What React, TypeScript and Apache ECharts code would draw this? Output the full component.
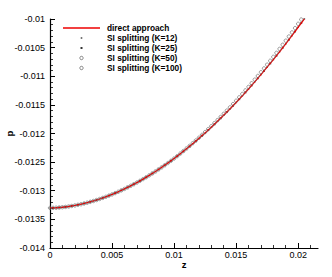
import React, { useEffect, useRef } from "react";
import * as echarts from "echarts";

// z grid A (0 .. 0.0205, step 0.0005)
const zA = [
  0, 0.0005, 0.001, 0.0015, 0.002, 0.0025, 0.003, 0.0035, 0.004, 0.0045,
  0.005, 0.0055, 0.006, 0.0065, 0.007, 0.0075, 0.008, 0.0085, 0.009, 0.0095,
  0.01, 0.0105, 0.011, 0.0115, 0.012, 0.0125, 0.013, 0.0135, 0.014, 0.0145,
  0.015, 0.0155, 0.016, 0.0165, 0.017, 0.0175, 0.018, 0.0185, 0.019, 0.0195,
  0.02, 0.0205,
];
// z grid B (0.00025 .. 0.02025)
const zB = [
  0.00025, 0.00075, 0.00125, 0.00175, 0.00225, 0.00275, 0.00325, 0.00375, 0.00425, 0.00475,
  0.00525, 0.00575, 0.00625, 0.00675, 0.00725, 0.00775, 0.00825, 0.00875, 0.00925, 0.00975,
  0.01025, 0.01075, 0.01125, 0.01175, 0.01225, 0.01275, 0.01325, 0.01375, 0.01425, 0.01475,
  0.01525, 0.01575, 0.01625, 0.01675, 0.01725, 0.01775, 0.01825, 0.01875, 0.01925, 0.01975,
  0.02025,
];

const directP = [
  -0.0133, -0.013297, -0.013288, -0.013275, -0.013257, -0.013235, -0.013209, -0.013179, -0.013144, -0.013106,
  -0.013064, -0.013018, -0.012968, -0.012914, -0.012857, -0.012796, -0.012731, -0.012663, -0.012591, -0.012516,
  -0.012437, -0.012354, -0.012268, -0.012179, -0.012086, -0.01199, -0.01189, -0.011787, -0.01168, -0.011571,
  -0.011458, -0.011342, -0.011222, -0.011098, -0.010971, -0.010842, -0.010709, -0.010573, -0.010433, -0.010291,
  -0.010144, -0.009997,
];

const si12P = [
  -0.0133, -0.013297, -0.013288, -0.013275, -0.013257, -0.013235, -0.013209, -0.013179, -0.013144, -0.013106,
  -0.013064, -0.013018, -0.012968, -0.012914, -0.012857, -0.012796, -0.012731, -0.012663, -0.012591, -0.012516,
  -0.012437, -0.012354, -0.012268, -0.012179, -0.012086, -0.01199, -0.01189, -0.011787, -0.01168, -0.011571,
  -0.011458, -0.011342, -0.011222, -0.011098, -0.010971, -0.010842, -0.010709, -0.010573, -0.010433, -0.010291,
  -0.010144, -0.009997,
];

const si25P = [
  -0.013299, -0.013293, -0.013282, -0.013266, -0.013246, -0.013222, -0.013194, -0.013162, -0.013125, -0.013085,
  -0.013041, -0.012993, -0.012941, -0.012886, -0.012827, -0.012764, -0.012697, -0.012627, -0.012554, -0.012477,
  -0.012396, -0.012311, -0.012224, -0.012133, -0.012038, -0.01194, -0.011839, -0.011734, -0.011626, -0.011515,
  -0.0114, -0.011282, -0.01116, -0.011035, -0.010907, -0.010776, -0.010641, -0.010503, -0.010362, -0.010218,
  -0.010071,
];

const si50P = [
  -0.0133, -0.013297, -0.013288, -0.013275, -0.013257, -0.013235, -0.013209, -0.013179, -0.013144, -0.013106,
  -0.013064, -0.013018, -0.012968, -0.012914, -0.012857, -0.012796, -0.012731, -0.012663, -0.012591, -0.012516,
  -0.012437, -0.012351, -0.012262, -0.01217, -0.012074, -0.011975, -0.011872, -0.011766, -0.011656, -0.011544,
  -0.011428, -0.011309, -0.011186, -0.011059, -0.010929, -0.010797, -0.010661, -0.010522, -0.010379, -0.010234,
  -0.010084,
];

const si100P = [
  -0.013299, -0.013293, -0.013282, -0.013266, -0.013246, -0.013222, -0.013194, -0.013162, -0.013125, -0.013085,
  -0.013041, -0.012993, -0.012941, -0.012886, -0.012827, -0.012764, -0.012697, -0.012627, -0.012554, -0.012477,
  -0.012395, -0.012306, -0.012216, -0.012122, -0.012024, -0.011923, -0.011819, -0.011711, -0.0116, -0.011486,
  -0.011368, -0.011247, -0.011122, -0.010994, -0.010863, -0.010729, -0.010591, -0.01045, -0.010306, -0.010159,
  -0.010009,
];

const xTickLabels = [0, 0.005, 0.01, 0.015, 0.02];
const xMinorTicks = [
  0.001, 0.002, 0.003, 0.004, 0.006, 0.007, 0.008, 0.009, 0.011, 0.012, 0.013, 0.014,
  0.016, 0.017, 0.018, 0.019, 0.021,
];

const seriesNames = [
  "direct approach",
  "SI splitting (K=12)",
  "SI splitting (K=25)",
  "SI splitting (K=50)",
  "SI splitting (K=100)",
];

const FONT = '"Liberation Sans", Arial, sans-serif';

function zip(xs: number[], ys: number[]) {
  return ys.map((y, i) => [xs[i], y]);
}

export default function App() {
  const ref = useRef<HTMLDivElement>(null);
  useEffect(() => {
    if (!ref.current) return;
    const chart = echarts.init(ref.current, undefined, { renderer: "svg" });
    const legendX = 63;
    const legendTop = 28;
    const rowH = 10;
    const legendGraphics: any[] = [];
    seriesNames.forEach((name, i) => {
      const y = legendTop + i * rowH;
      if (i === 0) {
        legendGraphics.push({
          type: "line",
          shape: { x1: legendX, y1: y, x2: legendX + 37, y2: y },
          style: { stroke: "#ee0000", lineWidth: 1.5 },
        });
      } else if (i <= 2) {
        const s = i === 1 ? 1.6 : 2;
        legendGraphics.push({
          type: "rect",
          shape: { x: legendX + 18.5 - s / 2, y: y - s / 2, width: s, height: s },
          style: { fill: i === 1 ? "#555" : "#333" },
        });
      } else {
        legendGraphics.push({
          type: "circle",
          shape: { cx: legendX + 18.5, cy: y, r: 1.7 },
          style: { fill: "none", stroke: "#666", lineWidth: 0.8 },
        });
      }
      legendGraphics.push({
        type: "text",
        x: 107,
        y,
        style: {
          text: name,
          font: `bold 8.3px ${FONT}`,
          fill: "#000",
          align: "left",
          verticalAlign: "middle",
        },
      });
    });

    chart.setOption({
      animation: false,
      textStyle: { fontFamily: FONT },
      grid: {
        left: 50,
        top: 19,
        right: 14,
        bottom: 29,
        containLabel: false,
        outerBoundsMode: "none",
      },
      xAxis: [
        {
          type: "value",
          min: 0,
          max: 0.0216,
          position: "bottom",
          name: "z",
          nameLocation: "middle",
          nameGap: 11,
          nameMoveOverlap: false,
          nameTextStyle: { fontWeight: "bold", fontSize: 9.5, color: "#000", fontFamily: FONT },
          axisLine: { show: true, onZero: false, lineStyle: { color: "#000", width: 1.2 } },
          axisTick: {
            show: true,
            inside: true,
            length: 5,
            lineStyle: { color: "#000", width: 1 },
            customValues: xTickLabels,
          },
          axisLabel: {
            show: true,
            margin: 2,
            fontSize: 9,
            color: "#000",
            fontFamily: FONT,
            customValues: xTickLabels,
          },
          splitLine: { show: false },
        },
        {
          type: "value",
          min: 0,
          max: 0.0216,
          position: "bottom",
          axisLine: { show: false },
          axisTick: {
            show: true,
            inside: true,
            length: 3,
            lineStyle: { color: "#000", width: 0.8 },
            customValues: xMinorTicks,
          },
          axisLabel: { show: false },
          splitLine: { show: false },
        },
      ],
      yAxis: {
        type: "value",
        min: -0.014,
        max: -0.01,
        interval: 0.0005,
        position: "left",
        name: "p",
        nameLocation: "middle",
        nameGap: 36,
        nameRotate: 90,
        nameMoveOverlap: false,
        nameTextStyle: { fontWeight: "bold", fontSize: 9.5, color: "#000", fontFamily: FONT },
        axisLine: { show: true, onZero: false, lineStyle: { color: "#000", width: 1.2 } },
        axisTick: { show: true, inside: true, length: 5, lineStyle: { color: "#000", width: 1 } },
        minorTick: { show: true, splitNumber: 5, length: 3, lineStyle: { color: "#000", width: 0.8 } },
        axisLabel: { show: true, margin: 5, fontSize: 9, color: "#000", fontFamily: FONT },
        splitLine: { show: false },
        minorSplitLine: { show: false },
      },
      graphic: legendGraphics,
      series: [
        {
          name: seriesNames[1],
          type: "scatter",
          data: zip(zA, si12P),
          symbol: "rect",
          symbolSize: 1.6,
          itemStyle: { color: "#555" },
          clip: false,
          z: 2,
        },
        {
          name: seriesNames[2],
          type: "scatter",
          data: zip(zB, si25P),
          symbol: "rect",
          symbolSize: 2,
          itemStyle: { color: "#333" },
          clip: false,
          z: 2,
        },
        {
          name: seriesNames[0],
          type: "line",
          data: zip(zA, directP),
          symbol: "none",
          smooth: false,
          lineStyle: { color: "#ee0000", width: 1.3 },
          clip: false,
          z: 3,
        },
        {
          name: seriesNames[3],
          type: "scatter",
          data: zip(zA, si50P),
          symbol: "circle",
          symbolSize: 3.4,
          itemStyle: { color: "rgba(0,0,0,0)", borderColor: "#666", borderWidth: 0.8 },
          clip: false,
          z: 4,
        },
        {
          name: seriesNames[4],
          type: "scatter",
          data: zip(zB, si100P),
          symbol: "circle",
          symbolSize: 3.4,
          itemStyle: { color: "rgba(0,0,0,0)", borderColor: "#666", borderWidth: 0.8 },
          clip: false,
          z: 4,
        },
      ],
    });
    return () => chart.dispose();
  }, []);
  return (
    <div
      ref={ref}
      style={{ position: "fixed", left: 0, top: 0, width: 332, height: 277, background: "#fff" }}
    />
  );
}
